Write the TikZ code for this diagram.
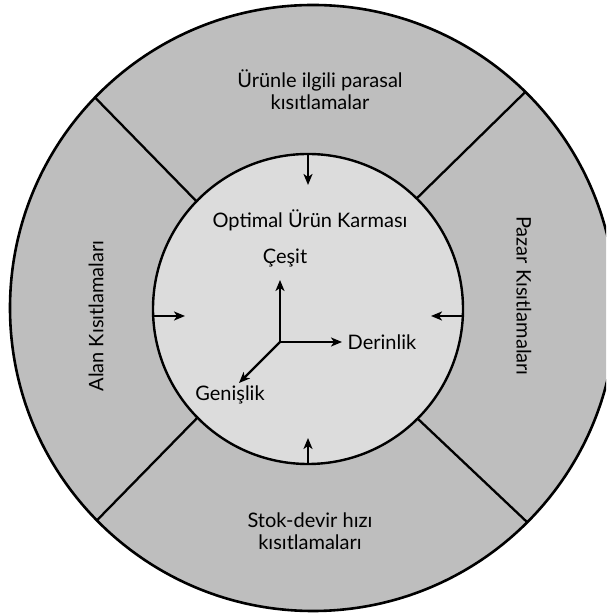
\documentclass[tikz,border=0pt]{standalone}
\usepackage{fontspec}
\setmainfont{Lato}
\usetikzlibrary{arrows.meta}
\definecolor{ringgray}{gray}{0.745}
\definecolor{coregray}{gray}{0.863}
\tikzset{
  label/.style={font=\fontsize{20}{22}\selectfont, align=center, inner sep=0pt, text=black},
  divider/.style={line width=2.3pt},
  pusharrow/.style={line width=2.2pt, -{Stealth[length=11pt,width=9pt,inset=3pt]}},
  axisarrow/.style={line width=2.2pt, -{Stealth[length=11pt,width=9pt,inset=3pt]}}
}
\begin{document}
\begin{tikzpicture}[x=1pt,y=1pt]
  \useasboundingbox (0,0) rectangle (606,615);
  \clip (0,0) rectangle (606,615);

  % centres of the two rings
  \coordinate (O) at (313,307);
  \coordinate (I) at (308,306);

  % outer ring and core
  \fill[ringgray] (O) circle (303);
  \draw[line width=2.6pt] (O) circle (303);
  \node[circle, draw, line width=2.4pt, fill=coregray, minimum size=310pt, inner sep=0pt] (core) at (I) {};

  % radial dividers between the four constraint sectors
  \foreach \ang/\nm in {136/tl, 45.5/tr, 224.5/bl, 315/br}{
    \path (I) ++(\ang:155) coordinate (\nm-in);
    \path (O) ++(\ang:303) coordinate (\nm-out);
    \draw[divider] (\nm-in) -- (\nm-out);
  }

  % sector labels
  \node[label] (top) at (320,525) {Ürünle ilgili parasal\\kısıtlamalar};
  \node[label, rotate=-90] (right) at (524,319) {Pazar Kısıtlamaları};
  \node[label, rotate=90] (left) at (96,299) {Alan Kısıtlamaları};
  \node[label] (bottom) at (310,84) {Stok-devir hızı\\kısıtlamaları};

  % arrows pressing in on the core
  \coordinate (nA) at (308,461);
  \coordinate (nB) at (308,430);
  \coordinate (sA) at (308,151);
  \coordinate (sB) at (308,177);
  \coordinate (wA) at (153,299);
  \coordinate (wB) at (185,299);
  \coordinate (eA) at (463,299);
  \coordinate (eB) at (431,299);
  \draw[pusharrow] (nA) -- (nB);
  \draw[pusharrow] (sA) -- (sB);
  \draw[pusharrow] (wA) -- (wB);
  \draw[pusharrow] (eA) -- (eB);

  % core contents
  \node[label] (title) at (310,395) {Optimal Ürün Karması};
  \coordinate (origin) at (280,273);
  \coordinate (upTip) at (280,335);
  \coordinate (rightTip) at (342,273);
  \coordinate (diagTip) at (239,232);
  \draw[axisarrow] (origin) -- (upTip);
  \draw[axisarrow] (origin) -- (rightTip);
  \draw[axisarrow] (origin) -- (diagTip);
  \node[label] (cesit) at (285,357) {Çeşit};
  \node[label] (derinlik) at (382,273) {Derinlik};
  \node[label] (genislik) at (230,220) {Genişlik};
\end{tikzpicture}
\end{document}
